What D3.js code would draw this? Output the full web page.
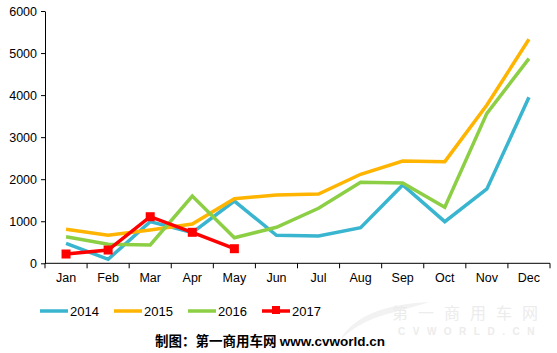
<!DOCTYPE html>
<html><head><meta charset="utf-8">
<script src="https://cdn.jsdelivr.net/npm/d3@7"></script>
<style>body{margin:0;background:#fff}svg{display:block}</style>
</head><body><svg id="c" width="557" height="353"></svg>
<script>
const months = ["Jan","Feb","Mar","Apr","May","Jun","Jul","Aug","Sep","Oct","Nov","Dec"];
const yTicks = [0,1000,2000,3000,4000,5000,6000];
const s2014 = [476,95,990,728,1481,666,650,847,1862,990,1767,3948];
const s2015 = [808,666,792,935,1536,1624,1648,2117,2433,2417,3765,5327];
const s2016 = [633,452,435,1600,609,856,1308,1926,1910,1332,3567,4866];
const s2017 = [221,316,1108,737,347];
const seriesNames = ["2014","2015","2016","2017"];
const colors = ["#3ab5d0","#ffb400","#8ccf45","#ff0000"];

const svg = d3.select("#c");
const m = {l:45};
const x = d3.scaleBand().domain(months).range([m.l, 550]);
const y = d3.scaleLinear().domain([0,6000]).range([263.3, 11]);

// watermark
const wm = svg.append("g").attr("fill","#ececec");
wm.append("path").attr("d","M340,340 Q360,305 430,302 L395,312 Q360,320 340,340 Z").attr("fill","#f2f2f2");
wm.append("text").attr("x",392).attr("y",319).attr("font-family","Noto Sans CJK SC").attr("font-size",16)
  .attr("letter-spacing","10px").text("第一商用车网");
wm.append("text").attr("x",398).attr("y",335).attr("font-family","Liberation Sans, Arial").attr("font-weight","bold").attr("font-size",10)
  .attr("letter-spacing","7.5px").text("CVWORLD.CN");

// axes
const yAxis = d3.axisLeft(y).tickValues(yTicks).tickSize(4).tickSizeOuter(0).tickFormat(d3.format("d"));
const gy = svg.append("g").attr("transform",`translate(${m.l},0)`).call(yAxis);
gy.selectAll("text").attr("font-family","Liberation Sans, Arial").attr("font-size",12.5).attr("fill","#000").attr("x",-8);
gy.selectAll("line,path").attr("stroke","#000");

const gx = svg.append("g").attr("transform",`translate(0,${y(0)})`);
gx.append("line").attr("x1",m.l).attr("x2",550).attr("stroke","#000");
const bounds = months.map(d=>x(d)).concat([550]);
gx.selectAll("line.t").data(bounds).enter().append("line").attr("class","t")
  .attr("x1",d=>d).attr("x2",d=>d).attr("y1",0).attr("y2",5).attr("stroke","#000");
gx.selectAll("text").data(months).enter().append("text")
  .attr("x",d=>x(d)+x.bandwidth()/2).attr("y",19).attr("text-anchor","middle")
  .attr("font-family","Liberation Sans, Arial").attr("font-size",12.5).text(d=>d);

const line = d3.line().x((d,i)=>x(months[i])+x.bandwidth()/2).y(d=>y(d));
const data = [s2014,s2015,s2016,s2017];
data.forEach((s,k)=>{
  svg.append("path").datum(s).attr("d",line).attr("fill","none")
    .attr("stroke",colors[k]).attr("stroke-width",3.5).attr("stroke-linejoin","miter");
});
svg.selectAll("rect.mk").data(s2017).enter().append("rect").attr("class","mk")
  .attr("x",(d,i)=>x(months[i])+x.bandwidth()/2-4.5).attr("y",d=>y(d)-4.5)
  .attr("width",9).attr("height",9).attr("fill","#ff0000");

// legend
const lx = [40,114,188,262];
seriesNames.forEach((n,k)=>{
  const g = svg.append("g");
  g.append("line").attr("x1",lx[k]).attr("x2",lx[k]+28).attr("y1",311).attr("y2",311)
    .attr("stroke",colors[k]).attr("stroke-width",3.5);
  if(k===3) g.append("rect").attr("x",lx[k]+10).attr("y",306).attr("width",8).attr("height",8).attr("fill",colors[k]);
  g.append("text").attr("x",lx[k]+30).attr("y",316).attr("font-family","Liberation Sans, Arial").attr("font-size",13).text(n);
});

// caption
const cap = svg.append("text").attr("x",270).attr("y",346).attr("text-anchor","middle").attr("font-size",13.5);
cap.append("tspan").attr("font-family","Noto Sans CJK SC").attr("font-weight","bold").text("制图：第一商用车网 ");
cap.append("tspan").attr("font-family","Liberation Sans, Arial").attr("font-weight","bold").text("www.cvworld.cn");
</script></body></html>
